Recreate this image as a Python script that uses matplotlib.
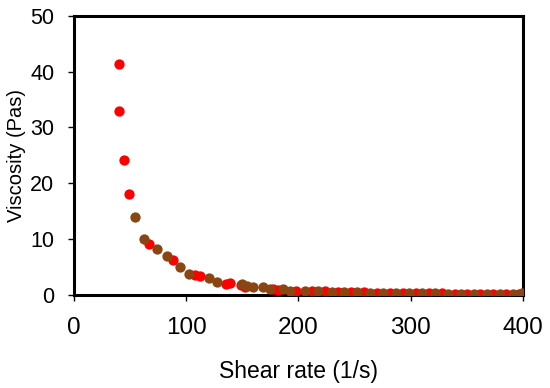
import matplotlib.pyplot as plt

# red series (shear rate, viscosity)
red_x = [40.6, 40.0, 44.5, 49.5, 66.7, 88.0, 108.0, 112.5, 135.5, 139.0, 148.5,
         152.4, 177.6, 182.0, 198.2, 211.7, 223.6, 235.0, 246.5, 258.0, 270.0,
         281.5, 293.0, 304.5, 316.0, 327.5, 339.0, 350.5, 362.0, 373.5, 385.0, 396.5]
red_y = [41.4, 33.0, 24.1, 18.1, 9.1, 6.2, 3.5, 3.4, 1.95, 2.05, 1.7,
         1.45, 0.97, 0.95, 0.72, 0.7, 0.65, 0.55, 0.5, 0.45, 0.4,
         0.38, 0.35, 0.3, 0.28, 0.25, 0.22, 0.2, 0.18, 0.16, 0.15, 0.14]

# brown series
brown_x = [54.8, 62.5, 74.4, 82.7, 94.6, 102.6, 120.4, 127.8, 149.5, 154.4,
           159.8, 168.7, 174.6, 186.5, 192.4, 205.8, 217.6, 229.5, 240.7, 252.3,
           264.0, 275.7, 287.2, 298.8, 310.3, 321.9, 333.4, 345.0, 356.6, 368.1,
           379.7, 391.2, 399.0]
brown_y = [14.0, 9.95, 8.15, 6.9, 5.0, 3.66, 3.1, 2.35, 1.9, 1.56,
           1.33, 1.33, 0.97, 0.97, 0.72, 0.72, 0.68, 0.6, 0.52, 0.47,
           0.42, 0.4, 0.36, 0.32, 0.3, 0.27, 0.24, 0.21, 0.19, 0.17,
           0.16, 0.15, 0.3]

plt.rcParams['font.family'] = ['Liberation Sans', 'DejaVu Sans']

fig = plt.figure(figsize=(5.5, 3.88), dpi=100)
ax = fig.add_axes([0.134, 0.240, 0.817, 0.719])

ax.scatter(red_x, red_y, s=55, color='#ff0000', zorder=3, linewidths=0)
ax.scatter(brown_x, brown_y, s=55, color='#8b4513', zorder=3, linewidths=0)

ax.set_xlim(0, 400)
ax.set_ylim(0, 50)
ax.set_xticks([0, 100, 200, 300, 400])
ax.set_yticks([0, 10, 20, 30, 40, 50])
ax.set_xlabel("Shear rate (1/s)", fontsize=16.5, labelpad=15)
ax.set_ylabel("Viscosity (Pas)", fontsize=14.5, labelpad=3)
ax.tick_params(axis='x', labelsize=17.5, direction='out', length=4, width=1, pad=12)
ax.tick_params(axis='y', labelsize=15.5, direction='out', length=4, width=1, pad=10)
for s in ax.spines.values():
    s.set_linewidth(2.2)
    s.set_color('black')

fig.savefig("out.png", dpi=100)
